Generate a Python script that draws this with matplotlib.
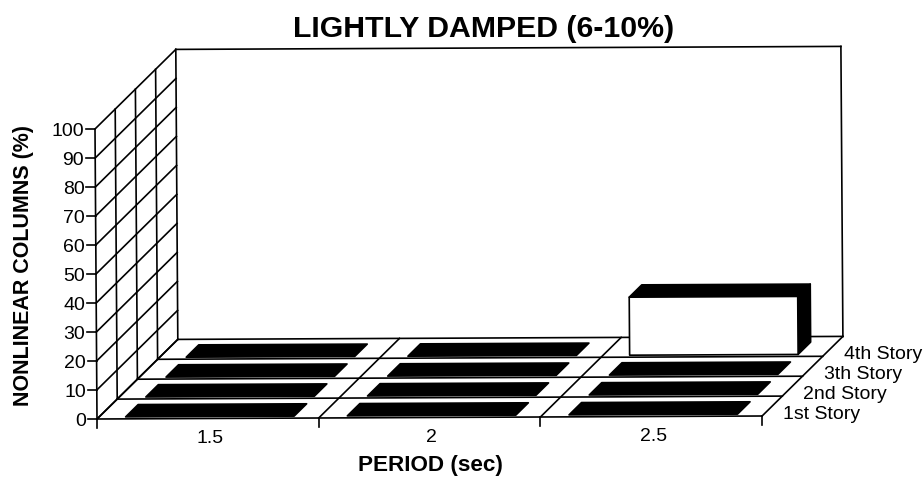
import matplotlib
matplotlib.use('Agg')
import matplotlib.pyplot as plt
from matplotlib.patches import Polygon

plt.rcParams['font.family'] = ['Liberation Sans', 'DejaVu Sans']

### data
periods = ['1.5', '2', '2.5']
stories = ['1st Story', '2nd Story', '3th Story', '4th Story']
story1 = [0, 0, 0]
story2 = [0, 0, 0]
story3 = [0, 0, 0]
story4 = [0, 0, 20]
yticks = [0, 10, 20, 30, 40, 50, 60, 70, 80, 90, 100]

values = [story1, story2, story3, story4]
num_x = len(periods)
num_d = len(stories)

### oblique projection, pixels of the picture
def proj(x, d, z):
    px = 97 + x * 221.7 + d * 20.2 - z * 0.02
    py = 420 - x * 1.0 - d * 19.9 - z * 2.9
    return px, py

def line(ax, a, b, lw=1.2):
    ax.plot([a[0], b[0]], [a[1], b[1]], color='black', lw=lw, solid_capstyle='projecting', zorder=2)

def face(ax, pts, fc):
    ax.add_patch(Polygon(pts, closed=True, fc=fc, ec='black', lw=1.2, joinstyle='round', zorder=3))

fig = plt.figure(figsize=(9.24, 4.81), dpi=100)
ax = fig.add_axes([0, 0, 1, 1])
ax.set_xlim(0, 924)
ax.set_ylim(481, 0)
ax.axis('off')

### walls and floor
for z in yticks:
    line(ax, proj(0, 0, z), proj(0, num_d, z))
    p = proj(0, 0, z)
    line(ax, (p[0] - 9, p[1]), p)
    ax.text(p[0] - 11, p[1] + 1.5, str(z), ha='right', va='center', fontsize=14)
for d in range(num_d + 1):
    line(ax, proj(0, d, 0), proj(0, d, 100))
    line(ax, proj(0, d, 0), proj(num_x, d, 0))
for x in range(num_x + 1):
    line(ax, proj(x, 0, 0), proj(x, num_d, 0))
    p = proj(x, 0, 0)
    line(ax, p, (p[0], p[1] + 9))
line(ax, proj(0, num_d, 100), proj(num_x, num_d, 100))
line(ax, proj(num_x, num_d, 0), proj(num_x, num_d, 100))

### bars, back row first
for d in range(num_d - 1, -1, -1):
    for x in range(num_x):
        z = values[d][x]
        x0, x1 = x + 0.12, x + 0.88
        d0, d1 = d + 0.1, d + 0.72
        if z > 0:
            face(ax, [proj(x1, d0, 0), proj(x1, d1, 0), proj(x1, d1, z), proj(x1, d0, z)], 'black')
            face(ax, [proj(x0, d0, z), proj(x1, d0, z), proj(x1, d1, z), proj(x0, d1, z)], 'black')
            face(ax, [proj(x0, d0, 0), proj(x1, d0, 0), proj(x1, d0, z), proj(x0, d0, z)], 'white')
        else:
            face(ax, [proj(x0, d0, 0), proj(x1, d0, 0), proj(x1, d1, 0), proj(x0, d1, 0)], 'black')

### labels
for x, name in enumerate(periods):
    p = proj(x + 0.5, 0, 0)
    ax.text(p[0] + 2, p[1] + 19, name, ha='center', va='center', fontsize=14)
for d, name in enumerate(stories):
    p = proj(num_x, d + 0.5, 0)
    ax.text(p[0] + 11, p[1] + 7, name, ha='left', va='center', fontsize=14)

ax.text(484, 29, 'LIGHTLY DAMPED (6-10%)', ha='center', va='center', fontsize=21.8, fontweight='bold')
ax.text(430, 466, 'PERIOD (sec)', ha='center', va='center', fontsize=16.2, fontweight='bold')
ax.text(24, 266, 'NONLINEAR COLUMNS (%)', ha='center', va='center', rotation=90, fontsize=15.5, fontweight='bold')

fig.savefig('out.png', dpi=100)
